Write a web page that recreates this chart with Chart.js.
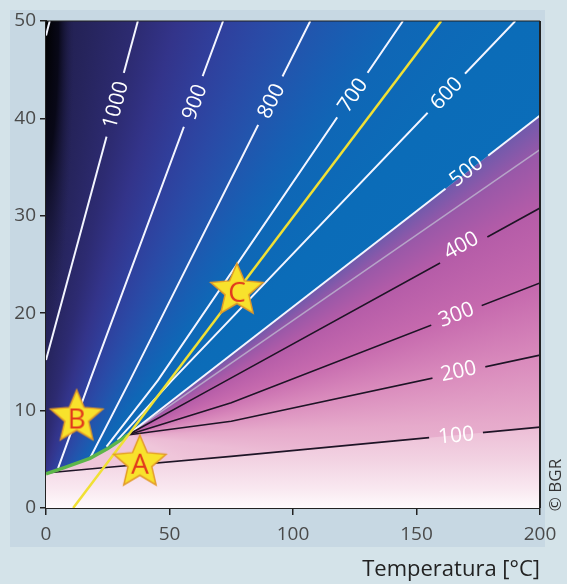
<!DOCTYPE html>
<html>
<head>
<meta charset="utf-8">
<script src="https://cdn.jsdelivr.net/npm/chart.js@4.4.1/dist/chart.umd.min.js"></script>
<style>
  html, body { margin: 0; padding: 0; background: #d4e3e9; }
  canvas { display: block; }
</style>
</head>
<body>
<canvas id="chart" width="567" height="584"></canvas>
<script>
// isolines (x = temperature, y = axis value)
const isoValues = [100, 200, 300, 400, 500, 600, 700, 800, 900, 1000];
const isoX = [
  [0, 22, 75, 200],
  [33, 75, 200],
  [33, 75, 200],
  [33, 66, 200],
  [33, 200],
  [29, 51, 190],
  [24.5, 45.3, 144.5],
  [17.8, 34, 107],
  [4.9, 17.8, 71.7],
  [0, 37.2]
];
const isoY = [
  [3.6, 4.1, 5.3, 8.3],
  [7.5, 8.9, 15.7],
  [7.5, 10.8, 23.1],
  [7.5, 12.1, 30.8],
  [7.5, 40.3],
  [7.0, 13.1, 50],
  [6.3, 13.1, 50],
  [5.1, 13.1, 50],
  [4.1, 13.1, 50],
  [15.2, 50]
];
const labelX = [166, 167, 166, 168, 170, 162, 124, 91, 60, 28];
const labelY = [7.5, 14.1, 19.9, 27.0, 34.6, 42.6, 42.4, 41.8, 41.7, 41.4];

// short stub of the next line in the top left corner
const stubX = [0, 1.5];
const stubY = [48.5, 50];

const greyX = [33, 200];
const greyY = [7.5, 36.8];

const greenX = [0, 8, 17.8, 25, 31.5, 33];
const greenY = [3.5, 4.2, 5.1, 6.1, 7.2, 7.5];

const yellowX = [11, 160];
const yellowY = [0, 50];

const starNames = ['A', 'B', 'C'];
const starX = [38, 12.4, 77.3];
const starY = [4.75, 9.4, 22.4];

const pts = (xs, ys) => xs.map((x, i) => ({ x: x, y: ys[i] }));

// boundary between blue and pink: green curve then the 500 line
const boundary = pts(greenX, greenY).concat(pts(isoX[4], isoY[4]).slice(1));

const blueStops = [
  [0, '#1c1a40'], [0.02, '#26245c'], [0.034, '#2d2b72'], [0.045, '#33348a'],
  [0.057, '#303f9c'], [0.068, '#2a4aa6'], [0.079, '#2255ad'], [0.09, '#175fb3'],
  [0.1, '#0f67b6'], [0.12, '#0b6cb8'], [0.14, '#0b6db9'], [1, '#0b6db9']
];
const pinkStops = [
  [0, '#7e55a8'], [0.144, '#6c5aac'], [0.155, '#9a58a8'], [0.17, '#b55ca8'],
  [0.195, '#c66aae'], [0.22, '#d98abc'], [0.245, '#e6aacb'], [0.27, '#ecbcd5'],
  [0.32, '#efc6da'], [1, '#efc6da']
];
// below the 100 line: fade to white towards the x axis
const bottomStops = [[0, '#fefafc'], [2, '#f9e8f0'], [5, '#f2d2e2'], [8.5, '#ecbcd5']];

function conic(chart, cx, cy, stops) {
  const { ctx, chartArea, scales } = chart;
  if (!chartArea) return 'transparent';
  const px = scales.x.getPixelForValue(cx);
  const py = scales.y.getPixelForValue(cy);
  const g = ctx.createConicGradient(-Math.PI / 2, px, py);
  stops.forEach(s => g.addColorStop(s[0], s[1]));
  return g;
}

function vertical(chart, stops) {
  const { ctx, chartArea, scales } = chart;
  if (!chartArea) return 'transparent';
  const y0 = scales.y.getPixelForValue(stops[0][0]);
  const y1 = scales.y.getPixelForValue(stops[stops.length - 1][0]);
  const g = ctx.createLinearGradient(0, y0, 0, y1);
  const span = stops[stops.length - 1][0] - stops[0][0];
  stops.forEach(s => g.addColorStop((s[0] - stops[0][0]) / span, s[1]));
  return g;
}

function makeStar(letter) {
  const c = document.createElement('canvas');
  c.width = 60; c.height = 60;
  const g = c.getContext('2d');
  g.beginPath();
  for (let i = 0; i < 10; i++) {
    const r = i % 2 === 0 ? 27.5 : 12.5;
    const a = -Math.PI / 2 + i * Math.PI / 5;
    g.lineTo(30 + r * Math.cos(a), 31 + r * Math.sin(a));
  }
  g.closePath();
  g.fillStyle = '#f8e22c';
  g.fill();
  g.lineWidth = 1.5;
  g.strokeStyle = '#e39a26';
  g.stroke();
  g.fillStyle = '#e2381c';
  g.font = '28px "Open Sans"';
  g.textAlign = 'center';
  g.textBaseline = 'middle';
  g.fillText(letter, 30, 34);
  return c;
}
const starImgs = starNames.map(makeStar);

function labelGeom(chart, i) {
  const xs = isoX[i], ys = isoY[i];
  let k = 0;
  while (k < xs.length - 2 && labelX[i] > xs[k + 1]) k++;
  const sx = chart.scales.x, sy = chart.scales.y;
  const a = Math.atan2(sy.getPixelForValue(ys[k + 1]) - sy.getPixelForValue(ys[k]),
                       sx.getPixelForValue(xs[k + 1]) - sx.getPixelForValue(xs[k]));
  return { x: sx.getPixelForValue(labelX[i]), y: sy.getPixelForValue(labelY[i]), a: a };
}

const labelFont = '21px "Open Sans"';

const decor = {
  id: 'decor',
  beforeDraw(chart) {
    const ctx = chart.ctx;
    ctx.save();
    ctx.fillStyle = '#d4e3e9';
    ctx.fillRect(0, 0, chart.width, chart.height);
    ctx.fillStyle = '#c7d8e3';
    ctx.fillRect(10, 10, 535, 537);
    ctx.restore();
  },
  beforeDatasetDraw(chart, args) {
    const ds = chart.data.datasets[args.index];
    if (ds.labelIdx === undefined) return;
    const ctx = chart.ctx;
    const p = labelGeom(chart, ds.labelIdx);
    ctx.font = labelFont;
    const hw = ctx.measureText(String(isoValues[ds.labelIdx])).width / 2 + 9;
    const t = ctx.getTransform();
    ctx.save();
    ctx.beginPath();
    ctx.rect(0, 0, chart.width, chart.height);
    ctx.translate(p.x, p.y);
    ctx.rotate(p.a);
    ctx.rect(-hw, -12, hw * 2, 24);
    ctx.setTransform(t);
    ctx.clip('evenodd');
  },
  afterDatasetDraw(chart, args) {
    const ds = chart.data.datasets[args.index];
    const ctx = chart.ctx;
    if (ds.labelIdx !== undefined) { ctx.restore(); return; }
    if (ds.id === 'blue') {
      // dark strip along the left edge at the top
      const a = chart.chartArea;
      ctx.save();
      ctx.beginPath();
      ctx.rect(a.left, a.top, a.right - a.left, a.bottom - a.top);
      ctx.clip();
      ctx.translate(a.left, a.top);
      ctx.scale(1, 11);
      const g = ctx.createRadialGradient(0, 0, 0, 0, 0, 28);
      g.addColorStop(0, 'rgba(0,0,0,0.97)');
      g.addColorStop(0.45, 'rgba(4,4,14,0.85)');
      g.addColorStop(1, 'rgba(30,28,70,0)');
      ctx.fillStyle = g;
      ctx.fillRect(0, 0, 30, 30);
      ctx.restore();
    }
  },
  afterDatasetsDraw(chart) {
    const ctx = chart.ctx;
    ctx.save();
    ctx.font = labelFont;
    ctx.fillStyle = '#ffffff';
    ctx.textAlign = 'center';
    ctx.textBaseline = 'middle';
    isoValues.forEach((v, i) => {
      const p = labelGeom(chart, i);
      ctx.save();
      ctx.translate(p.x, p.y);
      ctx.rotate(p.a);
      ctx.fillText(String(v), 0, 1);
      ctx.restore();
    });
    ctx.restore();
  },
  afterDraw(chart) {
    const ctx = chart.ctx;
    const a = chart.chartArea;
    ctx.save();
    ctx.strokeStyle = '#222';
    ctx.lineWidth = 1.2;
    ctx.beginPath();
    ctx.moveTo(a.left, a.top);
    ctx.lineTo(a.right, a.top);
    ctx.stroke();
    ctx.lineWidth = 2;
    ctx.beginPath();
    ctx.moveTo(a.right, a.top);
    ctx.lineTo(a.right, a.bottom);
    ctx.stroke();
    ctx.translate(556, 485);
    ctx.rotate(-Math.PI / 2);
    ctx.fillStyle = '#333';
    ctx.font = '17px "Open Sans"';
    ctx.textAlign = 'center';
    ctx.textBaseline = 'middle';
    ctx.fillText('\u00A9 BGR', 0, 0);
    ctx.restore();
  }
};

const isoSets = isoValues.map((v, i) => ({
  labelIdx: i,
  data: pts(isoX[i], isoY[i]),
  borderColor: v >= 500 ? '#f3f5ff' : '#1e1426',
  borderWidth: v >= 500 ? 2 : 1.6,
  order: 8
}));

new Chart(document.getElementById('chart'), {
  type: 'line',
  data: {
    datasets: [
      { id: 'stars', data: pts(starX, starY), showLine: false, pointRadius: 10,
        pointStyle: c => starImgs[c.dataIndex], order: 0 },
      { data: pts(yellowX, yellowY), borderColor: '#f0e034', borderWidth: 2.5, order: 2 },
      { data: pts(greenX, greenY), borderColor: '#5db64a', borderWidth: 3.5, order: 3 },
      ...isoSets,
      { data: pts(stubX, stubY), borderColor: '#f3f5ff', borderWidth: 2, order: 8 },
      { data: pts(greyX, greyY), borderColor: '#b6a4c8', borderWidth: 1.6, order: 9 },
      { id: 'bottom', data: pts(isoX[0], isoY[0]), borderColor: 'transparent', fill: 'start',
        order: 19, backgroundColor: c => vertical(c.chart, bottomStops) },
      { id: 'blue', data: boundary, borderColor: 'transparent', fill: 'end', order: 20,
        backgroundColor: c => conic(c.chart, -10, -5, blueStops) },
      { id: 'pink', data: boundary, borderColor: 'transparent', fill: 'start', order: 21,
        backgroundColor: c => conic(c.chart, 33, 7.5, pinkStops) }
    ]
  },
  options: {
    responsive: false,
    animation: false,
    events: [],
    layout: { padding: { left: 0, top: 21, right: 27, bottom: 0 } },
    elements: { point: { radius: 0 }, line: { tension: 0 } },
    plugins: { legend: { display: false }, tooltip: { enabled: false } },
    scales: {
      x: {
        type: 'linear', min: 0, max: 200, z: 1,
        afterFit: s => { s.height = 76; },
        ticks: { stepSize: 50, color: '#4a4a4a', padding: 8,
                 font: { family: 'Open Sans', size: 19 } },
        grid: { drawOnChartArea: false, tickLength: 7, color: '#222', lineWidth: 1.5 },
        border: { color: '#222', width: 2 },
        title: { display: true, text: 'Temperatura [°C]', align: 'end', color: '#222',
                 font: { family: 'Open Sans', size: 22 }, padding: { top: 0, bottom: 1 } }
      },
      y: {
        min: 0, max: 50, z: 1,
        afterFit: s => { s.width = 46; },
        ticks: { stepSize: 10, color: '#4a4a4a', padding: 4,
                 font: { family: 'Open Sans', size: 19 } },
        grid: { drawOnChartArea: false, tickLength: 6, color: '#222', lineWidth: 1.5 },
        border: { color: '#222', width: 2 }
      }
    }
  },
  plugins: [decor]
});
</script>
</body>
</html>
